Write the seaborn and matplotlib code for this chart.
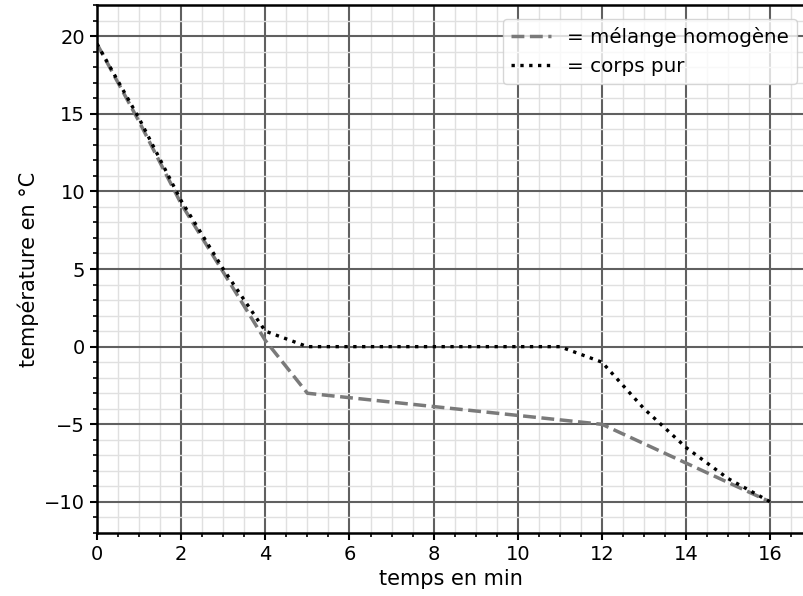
import numpy as np
import pandas as pd
import matplotlib
matplotlib.use("Agg")
import matplotlib.pyplot as plt
from matplotlib.ticker import MultipleLocator
import seaborn as sns

temps_melange = [0, 1, 2, 3, 4, 5, 12, 14, 16]
temp_melange = [19.5, 14.5, 9.2, 4.8, 0.4, -3, -5, -7.5, -10]

temps_pur = [0, 1, 2, 3, 4, 5, 11, 12, 13, 14, 15, 16]
temp_pur = [19.5, 14.7, 9.4, 5.0, 1.0, 0, 0, -1, -4, -6.5, -8.5, -10]

plt.rcParams['font.family'] = ['DejaVu Sans']
plt.rcParams['font.size'] = 14

fig = plt.figure(figsize=(8.04, 5.96), dpi=100)
ax = fig.add_axes([0.1206, 0.1057, 0.8794, 0.8859])

sns.lineplot(x=temps_melange, y=temp_melange, ax=ax, color="#7a7a7a",
             linestyle="--", linewidth=2.5, label="= mélange homogène")
sns.lineplot(x=temps_pur, y=temp_pur, ax=ax, color="black",
             linestyle=":", linewidth=2.4, label="= corps pur")

ax.set_xlim(0, 16.8)
ax.set_ylim(-12, 22)
ax.xaxis.set_major_locator(MultipleLocator(2))
ax.xaxis.set_minor_locator(MultipleLocator(0.5))
ax.yaxis.set_major_locator(MultipleLocator(5))
ax.yaxis.set_minor_locator(MultipleLocator(1))

ax.grid(which="major", color="#606060", linewidth=1.5)
ax.grid(which="minor", color="#e0e0e0", linewidth=1.0)
ax.set_axisbelow(True)

for s in ax.spines.values():
    s.set_linewidth(1.8)
ax.tick_params(which="major", length=5, width=1.5, labelsize=14)
ax.tick_params(which="minor", length=3, width=1.2)

ax.set_xlabel("temps en min", fontsize=15)
ax.set_ylabel("température en °C", fontsize=15)

ax.legend(loc="upper right", fontsize=14.3, handlelength=2.0,
          bbox_to_anchor=(0.998, 0.985), borderaxespad=0.3)

fig.savefig("out.png", dpi=100)
